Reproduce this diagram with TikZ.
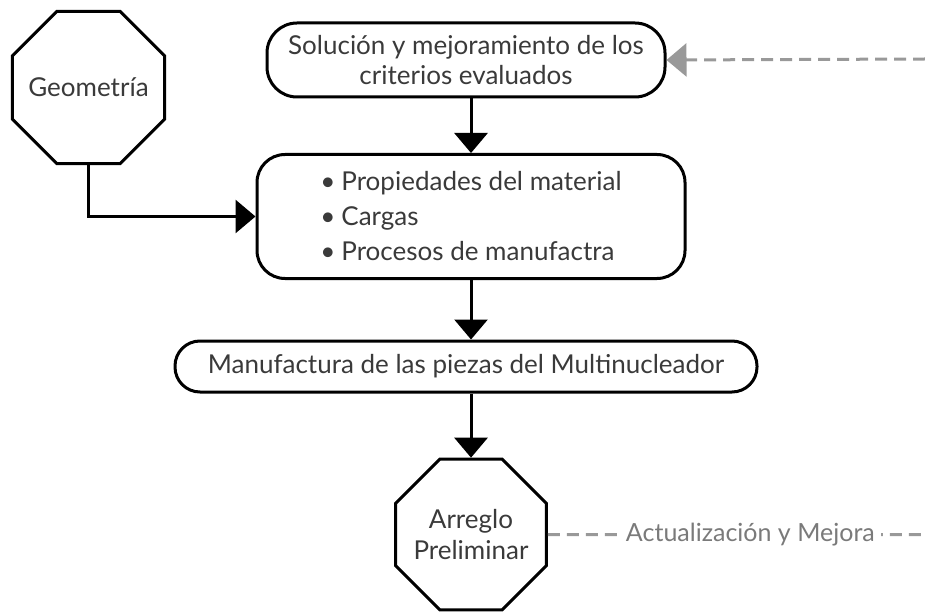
\documentclass[tikz,border=0pt]{standalone}
\usepackage{fontspec}
\setmainfont{Lato}
\usetikzlibrary{arrows.meta,positioning,shapes.geometric}
\definecolor{flowtext}{HTML}{3A3A3A}
\definecolor{loopgray}{HTML}{999999}
\definecolor{labelgray}{HTML}{7A7A7A}

\begin{document}
\begin{tikzpicture}[
  x=1pt,y=-1pt,
  octa/.style={draw,line width=3pt,regular polygon,regular polygon sides=8,
    minimum size=165pt,inner sep=-30pt,align=center,text=flowtext,
    font=\fontsize{26}{31}\selectfont},
  stage/.style={draw,line width=3pt,rounded corners=28pt,align=center,
    inner sep=0pt,text=flowtext,font=\fontsize{26}{30}\selectfont},
  flow/.style={-{Triangle[length=20pt,width=33pt]},line width=3pt},
  loop/.style={line width=3pt,loopgray,dash pattern=on 12pt off 7pt}
]
\useasboundingbox (0,0) rectangle (925,612);
\node[octa] (geo) at (88.5,87.5) {Geometría};
\node[stage,minimum width=398pt,minimum height=74pt,rounded corners=30pt] (sol)
  at (466,60) {Solución y mejoramiento de los\\criterios evaluados};
\node[stage,minimum width=428pt,minimum height=124pt,align=left,
  font=\fontsize{26}{35}\selectfont] (props) at (471,216.5)
  {\textbullet\hspace{6pt}Propiedades del material\\\textbullet\hspace{6pt}Cargas\\
   \textbullet\hspace{6pt}Procesos de manufactra};
\node[stage,minimum width=582pt,minimum height=51pt,rounded corners=25pt] (manu)
  at (466,366.5) {Manufactura de las piezas del Multinucleador};
\node[octa,minimum size=163pt] (arr) at (471,534.5) {Arreglo\\Preliminar};
\coordinate (loopin) at (925,59);
\coordinate (loopout) at (925,534.5);
% main flow
\draw[flow] (sol.south -| arr.north) -- (props.north -| arr.north);
\draw[flow] (props.south -| arr.north) -- (manu.north -| arr.north);
\draw[flow] (manu.south -| arr.north) -- (arr.north);
\draw[flow] (geo.south) |- (props.west);
% feedback
\draw[loop,-{Triangle[length=20pt,width=33pt]}] (loopin) -- (sol.east);
\draw[loop] (arr.east) -- node[pos=0.537,fill=white,text=labelgray,inner xsep=6pt,
  font=\fontsize{25}{30}\selectfont] {Actualización y Mejora} (loopout);
\end{tikzpicture}
\end{document}
